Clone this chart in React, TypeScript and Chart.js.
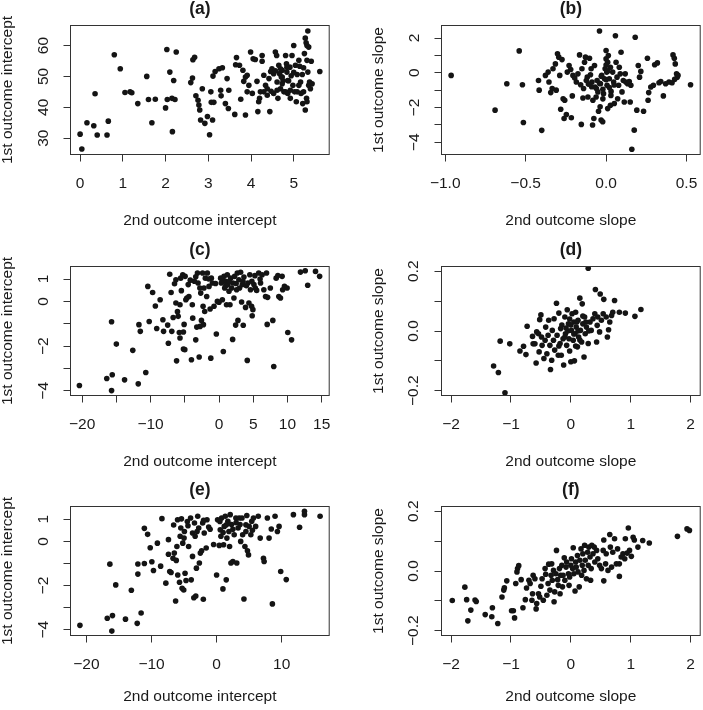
import React, { useEffect, useRef } from 'react';
import { Chart, registerables } from 'chart.js';

Chart.register(...registerables);

const FONT = "'Liberation Sans', Arial, Helvetica, sans-serif";
const INK = '#1a1a1a';
const DOT = '#141414';

// ---------- data (x = 2nd outcome, y = 1st outcome) ----------
const pointsA: number[][] = [
  [0,31.3],[0.04,26.5],[0.16,35],[0.32,34],[0.35,44.4],[0.4,31],[0.63,31],[0.66,35.5],[0.8,57],[0.94,52.5],
  [1.05,44.8],[1.17,45],[1.21,44.7],[1.35,41.2],[1.56,50],[1.6,42.5],[1.68,35],[1.76,42.6],[2.0,39.8],[2.03,58.7],
  [2.04,42.5],[2.1,51.4],[2.15,42.9],[2.16,32.1],[2.19,48.7],[2.22,42.5],[2.25,57.9],[2.59,48],[2.63,49.5],[2.64,55.4],
  [2.68,56.2],[2.71,43.7],[2.76,42.3],[2.78,40.7],[2.8,39.1],[2.82,35.9],[2.86,46],[2.92,34.8],[2.98,37],[3.03,31.1],
  [3.06,45],[3.1,35.9],[3.11,50.1],[3.13,41.6],[3.07,41.6],[3.16,51.6],[3.25,52.5],[3.29,45.5],[3.33,52.8],[3.3,43.7],
  [3.4,41.2],[3.44,49.3],[3.48,45.5],[3.47,39.6],[3.62,37.7],[3.66,56.1],[3.64,53.8],[3.73,53.6],[3.76,42.6],[3.81,52],
  [3.83,48.4],[3.87,49.8],[3.91,50.4],[3.87,37.5],[3.91,45],[3.95,47.1],[3.99,57.9],[4.03,44.5],[4.05,55.7],[4.1,55.5],
  [4.14,48.4],[4.16,38.6],[4.18,41.8],[4.2,42.9],[4.22,45],[4.26,56.8],[4.26,54.9],[4.3,50.4],[4.34,47.1],[4.38,43.9],
  [4.42,49.3],[4.44,38.6],[4.47,45.2],[4.49,52.5],[4.53,50.9],[4.57,57.9],[4.6,56.8],[4.61,48.2],[4.63,42.9],[4.65,53.6],
  [4.67,50.9],[4.69,46],[4.71,49.8],[4.73,52],[4.75,48.6],[4.77,45],[4.81,56.8],[4.83,54.1],[4.84,51.4],[4.86,44.5],
  [4.88,48.6],[4.91,53],[4.92,42.9],[4.94,50.2],[4.96,56.8],[4.98,47.1],[5.0,60],[5.02,45],[5.04,53.6],[5.06,41.8],
  [5.08,50.6],[5.12,55.2],[5.14,53.3],[5.16,48.2],[5.17,44.5],[5.2,50.6],[5.21,41.2],[5.23,52.8],[5.25,57.4],[5.27,39.1],
  [5.27,62.4],[5.29,60.9],[5.31,60],[5.33,64.7],[5.31,55.2],[5.33,51.4],[5.35,59.5],[5.35,47.1],[5.37,48.2],[5.39,46],
  [5.41,54.9],[5.43,47.6],[5.3,42.9],[5.31,41.8],[5.61,51.6],[4.46,51.6],[4.57,51.8],[4.69,52.5],[4.84,53],[4.73,47.6],
  [4.61,45.5],[4.53,44.5],[4.38,46],[4.3,45],[4.81,45],[4.92,45.5],[5.08,45],[5.23,45],[5.12,47.1],[5.0,51.3],
  [4.86,48.7],[4.73,49.8]
];

const pointsB: number[][] = [
  [-0.963,-0.15],[-0.69,-2.15],[-0.617,-0.63],[-0.54,1.26],[-0.52,-0.69],[-0.514,-2.86],[-0.42,-0.44],[-0.416,-1.0],[-0.4,-3.31],[-0.377,-0.15],
  [-0.36,0.04],[-0.355,-0.53],[-0.344,-1.14],[-0.335,-0.91],[-0.33,0.23],[-0.315,0.51],[-0.31,-1.0],[-0.302,1.09],[-0.294,0.9],[-0.288,-0.15],
  [-0.282,-2.1],[-0.274,0.76],[-0.267,-1.49],[-0.261,-2.63],[-0.257,-1.58],[-0.247,-2.4],[-0.241,0.04],[-0.23,0.42],[-0.22,0.19],[-0.216,-2.59],
  [-0.21,-1.33],[-0.206,-0.15],[-0.195,-0.3],[-0.185,-0.53],[-0.175,-0.06],[-0.165,1.03],[-0.158,-0.69],[-0.154,-2.97],[-0.15,0.23],[-0.144,-1.45],
  [-0.134,0.61],[-0.128,0.9],[-0.123,-0.44],[-0.117,-0.25],[-0.113,-1.39],[-0.103,0.84],[-0.097,-0.11],[-0.093,0.23],[-0.088,-0.53],[-0.084,-3.0],
  [-0.082,-1.58],[-0.076,-2.63],[-0.072,0.42],[-0.068,-0.82],[-0.062,-1.39],[-0.056,-0.44],[-0.051,-1.1],[-0.047,-2.21],[-0.041,2.4],[-0.037,-1.96],
  [-0.035,-0.63],[-0.031,-2.72],[-0.027,-0.15],[-0.021,-2.82],[-0.016,-1.2],[-0.01,-0.34],[-0.006,0.23],[0,0.8],[0,1.28],[0.004,0.04],
  [0.006,-0.72],[0.01,0.61],[0.01,-2.06],[0.014,0.99],[0.02,-0.34],[0.027,0.32],[0.027,-1.87],[0.031,-1.07],[0.041,0.04],[0.047,-0.53],
  [0.051,-1.77],[0.058,2.13],[0.062,0.61],[0.068,-0.25],[0.072,-1.49],[0.078,-0.72],[0.082,0.32],[0.088,-0.06],[0.093,1.18],[0.099,-1.1],
  [0.107,-0.44],[0.113,-1.68],[0.119,-0.06],[0.123,-0.53],[0.134,-0.63],[0.144,-0.5],[0.15,-1.68],[0.154,-0.72],[0.16,-4.4],[0.175,-3.3],
  [0.181,2.04],[0.191,-2.15],[0.2,0.42],[0.208,-0.25],[0.216,0.08],[0.233,-2.21],[0.257,0.84],[0.261,-1.58],[0.265,-1.14],[0.278,-0.82],
  [0.294,-0.72],[0.302,0.46],[0.319,0.57],[0.329,-0.57],[0.34,-0.5],[0.356,-1.33],[0.37,-0.63],[0.391,-0.53],[0.41,-0.57],[0.416,1.03],
  [0.424,0.84],[0.43,0.51],[0.438,-0.06],[0.442,-0.25],[0.447,-0.15],[0.426,-0.38],[0.525,-0.69],[-0.09,-0.8],[-0.06,-0.9],[-0.02,-0.95],
  [0.02,-0.85],[0.05,-0.7],[-0.04,-0.6],[0,-0.4],[-0.03,-0.2],[0.01,0.1],[-0.11,-0.65],[-0.14,-0.9],[0,0.45],[0.03,-1.3],
  [-0.02,-1.5]
];

const pointsC: number[][] = [
  [-20.4,-3.76],[-16.4,-3.45],[-15.6,-3.28],[-15.7,-3.99],[-15.7,-0.91],[-15.0,-1.91],[-13.8,-3.51],[-12.6,-2.19],[-11.8,-3.69],[-11.5,-1.34],
  [-11.7,-1.04],[-10.7,-3.18],[-10.4,0.67],[-10.2,-0.9],[-9.7,0.4],[-9.3,-0.21],[-9.1,-1.21],[-8.6,0.07],[-8.2,-0.82],[-8.1,-1.34],
  [-7.5,-1.06],[-7.4,-1.87],[-7.2,1.21],[-7.0,0.4],[-6.9,-1.34],[-6.7,-0.72],[-6.5,0.79],[-6.3,0.97],[-6.3,-0.07],[-6.2,-2.66],
  [-6.07,-0.46],[-5.97,-0.67],[-5.8,-1.39],[-5.7,-1.64],[-5.7,-0.15],[-5.6,1.04],[-5.5,0.48],[-5.3,1.19],[-5.2,-1.37],[-5.2,-2.13],
  [-5.1,-1.03],[-5.0,-2.16],[-4.95,1.12],[-4.85,0.07],[-4.7,0.15],[-4.5,0.75],[-4.4,0.22],[-4.03,-2.61],[-3.9,-0.15],[-3.84,-0.75],
  [-3.6,0.9],[-3.4,-1.72],[-3.25,-1.15],[-3.15,1.27],[-3.06,0.82],[-2.9,-2.49],[-2.77,-1.12],[-2.67,0.37],[-2.57,-0.85],[-2.4,1.27],
  [-2.33,-0.22],[-2.28,-1.04],[-2.2,0.6],[-2.09,-0.45],[-2.0,1.04],[-1.8,0.22],[-1.7,1.27],[-1.46,0.67],[-1.3,-0.34],[-1.2,-2.54],
  [-1.12,1.04],[-0.97,0.82],[-0.73,-0.22],[-0.39,-1.46],[-0.24,0],[0,-0.04],[0.24,1.04],[0.34,0.82],[0.49,0.07],[0.63,-2.24],
  [0.73,1.12],[0.83,0.6],[0.97,0.9],[1.1,-0.15],[1.21,1.19],[1.3,0.75],[1.46,0.45],[1.6,-0.15],[1.7,1.04],[1.84,0.6],
  [1.99,-1.7],[2.04,0.82],[2.18,0.15],[2.28,1.12],[2.43,-1.06],[2.57,0.52],[2.67,1.27],[2.77,-0.85],[2.9,0.97],[3.16,1.3],
  [3.3,-0.03],[3.4,0.75],[3.54,-1.07],[3.64,1.09],[3.88,-0.27],[4.13,-2.64],[4.22,0.82],[4.37,-0.07],[4.5,1.19],[4.6,0.52],
  [4.76,-0.22],[4.85,-0.64],[4.95,-0.37],[5.1,0.75],[5.24,1.15],[5.5,0.49],[5.8,1.27],[6.07,0.82],[6.3,1.19],[6.55,0.52],
  [6.8,0.22],[6.94,1.27],[7.04,-1.03],[7.1,0.18],[7.5,0.6],[7.86,-0.85],[8.0,-2.91],[8.35,1.04],[8.6,1.16],[8.74,0.22],
  [8.98,0.15],[9.22,1.12],[9.3,0.52],[9.56,0.67],[9.95,0.6],[10.05,-1.39],[10.6,-1.72],[11.9,1.31],[12.6,1.37],[12.96,0.72],
  [14.1,1.34],[14.7,1.12],[1.0,0.7],[1.5,0.9],[2.5,0.8],[3.0,0.6],[3.5,0.9],[4.0,0.7],[4.8,0.9],[5.3,0.6],
  [6.0,1.0],[0.5,0.9],[-0.5,0.8],[-1.5,1.0],[-2.8,0.6],[-3.4,1.1],[-4.2,0.95]
];

const pointsD: number[][] = [
  [0.29,0.21],[-1.29,-0.117],[-1.21,-0.139],[-1.1,-0.207],[-1.18,-0.034],[-1.02,-0.043],[-0.85,-0.067],[-0.79,-0.051],[-0.75,-0.079],[-0.73,0.016],
  [-0.64,-0.018],[-0.63,-0.043],[-0.6,-0.043],[-0.58,-0.107],[-0.57,-0.003],[-0.54,-0.009],[-0.53,-0.07],[-0.52,0.038],[-0.5,0.054],[-0.49,-0.02],
  [-0.48,-0.048],[-0.45,-0.092],[-0.43,-0.031],[-0.42,0.013],[-0.4,-0.076],[-0.38,-0.014],[-0.37,0.036],[-0.35,-0.048],[-0.34,-0.129],[-0.32,-0.098],
  [-0.31,0.002],[-0.29,-0.031],[-0.28,0.041],[-0.27,-0.064],[-0.24,0.093],[-0.23,-0.014],[-0.21,-0.081],[-0.2,0.06],[-0.18,-0.042],[-0.17,0.008],
  [-0.16,-0.081],[-0.13,-0.026],[-0.12,-0.114],[-0.1,0.047],[-0.09,-0.009],[-0.07,-0.048],[-0.06,0.071],[-0.04,0.024],[-0.03,-0.026],[-0.02,-0.067],
  [0,-0.103],[0.01,0.002],[0.02,0.058],[0.04,-0.031],[0.05,0.03],[0.06,-0.1],[0.07,-0.009],[0.08,0.063],[0.09,0.013],[0.11,-0.053],
  [0.12,0.036],[0.13,-0.02],[0.15,0.11],[0.16,0.002],[0.18,-0.037],[0.19,0.091],[0.2,0.024],[0.22,-0.087],[0.23,0.047],[0.24,-0.009],
  [0.26,0.013],[0.29,-0.042],[0.32,0.03],[0.34,0.002],[0.37,0.041],[0.4,0.058],[0.41,0.139],[0.43,-0.037],[0.44,0.019],[0.45,0.047],
  [0.48,-0.003],[0.49,0.124],[0.51,0.036],[0.54,0.058],[0.55,0.106],[0.59,0.047],[0.63,0.004],[0.61,-0.02],[0.65,0.03],[0.68,0.052],
  [0.7,0.063],[0.73,0.102],[0.81,0.063],[0.91,0.06],[1.07,0.049],[1.17,0.072],[0,0.02],[0.05,-0.01],[-0.05,0],[0.1,0.03],
  [-0.1,-0.02],[0.15,-0.03],[0.2,0.05],[-0.15,0.02],[0.08,-0.05],[-0.02,0.04],[0.12,0],[0.3,0],[-0.2,-0.05],[0.25,0.03],
  [-0.08,0.01]
];

const pointsE: number[][] = [
  [-21.0,-3.8],[-16.8,-3.48],[-16.0,-3.36],[-16.1,-4.06],[-16.4,-1.03],[-15.5,-1.97],[-14.0,-3.52],[-13.1,-2.21],[-12.2,-3.71],[-11.6,-3.24],
  [-12.1,-1.02],[-12.1,-1.48],[-11.1,-1.0],[-11.1,0.59],[-10.6,0.32],[-10.2,-0.29],[-9.95,-0.92],[-9.7,-1.32],[-9.1,-0.08],[-8.6,-1.12],
  [-8.4,1.03],[-7.8,-1.89],[-7.4,0.08],[-7.4,-0.58],[-7.2,-1.36],[-7.0,-1.41],[-6.7,-0.76],[-6.6,0.74],[-6.5,-0.53],[-6.3,-2.7],
  [-6.2,-0.86],[-6.1,-0.23],[-6.0,0.98],[-5.97,-1.52],[-5.7,-1.85],[-5.6,0.23],[-5.5,0.61],[-5.4,1.02],[-5.3,-2.12],[-5.2,-0.08],
  [-5.05,-2.2],[-4.95,0.45],[-4.85,-1.44],[-4.7,-1.77],[-4.4,0.71],[-4.3,-0.23],[-4.0,1.06],[-3.9,-1.74],[-3.7,0.38],[-3.7,-0.68],
  [-3.5,-2.55],[-3.4,0.83],[-3.3,0.23],[-3.2,-2.47],[-3.1,-1.21],[-2.9,1.14],[-2.75,0.61],[-2.65,-0.98],[-2.5,-0.53],[-2.3,-0.42],
  [-2.14,0.83],[-2.04,-2.62],[-1.9,0.38],[-1.6,-0.3],[-1.48,0.98],[-1.22,0.65],[-0.46,-0.14],[0,-1.52],[0.15,0.98],[0.41,-0.18],
  [0.56,0.53],[0.66,0.23],[0.77,1.06],[0.97,-2.15],[1.07,-0.15],[1.17,0.68],[1.33,1.14],[1.48,-1.74],[1.58,0.15],[1.73,0.91],
  [1.89,0.45],[1.99,-0.23],[2.09,1.21],[2.2,-0.98],[2.3,0.76],[2.5,-0.91],[2.7,0.3],[2.96,1.06],[3.1,-0.98],[3.3,0.61],
  [3.47,1.06],[3.6,0.76],[3.7,0],[3.9,1.06],[4.2,-2.61],[4.35,-0.23],[4.5,0.45],[4.64,1.17],[4.74,-0.42],[4.9,-0.61],
  [5.0,0.68],[5.26,0.3],[5.4,0.91],[5.66,1.06],[6.0,0.68],[6.4,1.14],[6.7,0.15],[7.2,-0.76],[7.3,-0.91],[7.8,1.06],
  [8.06,0.15],[8.57,-2.83],[8.4,0.56],[8.98,1.14],[9.34,0.45],[9.6,0.68],[9.85,-1.36],[10.7,-1.73],[11.8,1.21],[12.75,0.64],
  [13.5,1.36],[13.5,1.21],[15.9,1.14],[0.5,0.9],[1.0,0.4],[1.5,0.75],[2.5,0.55],[3.0,0.85],[4.0,0.3],[4.5,0.75],
  [5.5,0.5],[-1.0,0.55],[-2.0,0.95],[-3.0,0.45],[-4.5,0.9],[-5.0,0.15]
];

const pointsF: number[][] = [
  [-1.98,-0.099],[-1.77,-0.054],[-1.74,-0.096],[-1.67,-0.131],[-1.72,-0.167],[-1.6,-0.097],[-1.58,-0.102],[-1.43,-0.146],[-1.32,-0.153],[-1.31,-0.123],
  [-1.22,-0.176],[-1.15,-0.087],[-1.12,-0.064],[-1.11,-0.056],[-1.07,-0.033],[-0.99,-0.133],[-0.96,-0.133],[-0.94,-0.157],[-0.92,-0.042],[-0.9,-0.003],
  [-0.89,0.008],[-0.87,0.018],[-0.83,-0.029],[-0.8,-0.123],[-0.76,-0.096],[-0.74,-0.057],[-0.7,-0.031],[-0.68,-0.042],[-0.65,-0.098],[-0.64,-0.076],
  [-0.63,-0.014],[-0.6,-0.026],[-0.58,-0.127],[-0.57,-0.109],[-0.54,-0.076],[-0.52,-0.087],[-0.5,-0.051],[-0.48,-0.026],[-0.46,-0.098],[-0.43,0.008],
  [-0.42,-0.011],[-0.4,-0.081],[-0.38,-0.042],[-0.37,0.023],[-0.35,-0.064],[-0.33,-0.014],[-0.32,0.024],[-0.31,-0.031],[-0.29,0.002],[-0.28,-0.103],
  [-0.27,-0.07],[-0.25,-0.009],[-0.24,0.069],[-0.22,-0.029],[-0.21,-0.048],[-0.19,0.008],[-0.18,-0.076],[-0.17,-0.014],[-0.15,0.019],[-0.14,-0.053],
  [-0.13,-0.014],[-0.11,0.044],[-0.1,-0.031],[-0.08,0.013],[-0.07,0.03],[-0.04,-0.009],[-0.03,-0.048],[-0.02,-0.02],[0,0.019],[0.01,0.041],
  [0.03,0.008],[0.04,0.078],[0.05,-0.009],[0.07,-0.067],[0.08,0.03],[0.09,0.013],[0.11,0.052],[0.12,-0.003],[0.14,-0.053],[0.15,0.036],
  [0.17,0.074],[0.18,-0.014],[0.19,0.019],[0.2,0.058],[0.22,0.002],[0.23,0.086],[0.24,0.036],[0.26,-0.026],[0.28,0.063],[0.29,0.019],
  [0.3,0.08],[0.32,0.047],[0.33,-0.031],[0.34,0.008],[0.35,0.086],[0.37,0.058],[0.39,0.08],[0.4,0.03],[0.43,0.069],[0.45,0.041],
  [0.48,0.019],[0.51,0.008],[0.54,0.069],[0.55,0.104],[0.55,-0.033],[0.58,0.024],[0.59,0.058],[0.62,0.002],[0.65,0.122],[0.66,0.08],
  [0.68,0.013],[0.7,0.063],[0.73,0.108],[0.76,0.024],[0.78,0.074],[0.81,-0.018],[0.81,0.024],[0.84,0.047],[0.87,0.058],[0.9,0.041],
  [0.91,0.108],[0.94,0.06],[0.96,0.144],[0.98,0.069],[1.01,0.049],[1.04,0.113],[1.06,0.104],[1.12,0.08],[1.2,0.102],[1.31,0.094],
  [1.78,0.116],[1.94,0.141],[1.98,0.136]
];

// ---------- ticks ----------
const ticksA_x = [0, 1, 2, 3, 4, 5];
const labelsA_x = ['0', '1', '2', '3', '4', '5'];
const ticksA_y = [30, 40, 50, 60];
const labelsA_y = ['30', '40', '50', '60'];

const ticksB_x = [-1, -0.5, 0, 0.5];
const labelsB_x = ['\u22121.0', '\u22120.5', '0.0', '0.5'];
const ticksB_y = [-4, -3, -2, -1, 0, 1, 2];
const labelsB_y = ['\u22124', '', '\u22122', '', '0', '', '2'];

const ticksC_x = [-20, -15, -10, -5, 0, 5, 10, 15];
const labelsC_x = ['\u221220', '', '\u221210', '', '0', '5', '10', '15'];
const ticksInt_y = [-4, -3, -2, -1, 0, 1];
const labelsInt_y = ['\u22124', '', '\u22122', '', '0', '1'];

const ticksSlope_x = [-2, -1, 0, 1, 2];
const labelsSlope_x = ['\u22122', '\u22121', '0', '1', '2'];
const ticksSlope_y = [-0.2, -0.1, 0, 0.1, 0.2];
const labelsSlope_y = ['\u22120.2', '', '0.0', '', '0.2'];

const ticksE_x = [-20, -10, 0, 10];
const labelsE_x = ['\u221220', '\u221210', '0', '10'];

const titles = ['(a)', '(b)', '(c)', '(d)', '(e)', '(f)'];
const xTitles = ['2nd outcome intercept', '2nd outcome slope'];
const yTitles = ['1st outcome intercept', '1st outcome slope'];

type Spec = {
  title: string;
  points: number[][];
  xRange: number[];
  yRange: number[];
  xTicks: number[];
  xLabels: string[];
  yTicks: number[];
  yLabels: string[];
  xTitle: string;
  yTitle: string;
  left: number;
  top: number;
  yPad: number;
  xTitlePad: number;
};

const COLS = [0, 371];
const ROWS = [0, 241, 481];

const specs: Spec[] = [
  { title: titles[0], points: pointsA, xRange: [-0.225, 5.83], yRange: [24.7, 66.5], xTicks: ticksA_x, xLabels: labelsA_x, yTicks: ticksA_y, yLabels: labelsA_y, xTitle: xTitles[0], yTitle: yTitles[0], left: COLS[0], top: ROWS[0], yPad: 11, xTitlePad: 6.5 },
  { title: titles[1], points: pointsB, xRange: [-1.023, 0.585], yRange: [-4.7, 2.72], xTicks: ticksB_x, xLabels: labelsB_x, yTicks: ticksB_y, yLabels: labelsB_y, xTitle: xTitles[1], yTitle: yTitles[1], left: COLS[1], top: ROWS[0], yPad: 11, xTitlePad: 6.5 },
  { title: titles[2], points: pointsC, xRange: [-21.7, 16.1], yRange: [-4.21, 1.56], xTicks: ticksC_x, xLabels: labelsC_x, yTicks: ticksInt_y, yLabels: labelsInt_y, xTitle: xTitles[0], yTitle: yTitles[0], left: COLS[0], top: ROWS[1], yPad: 11, xTitlePad: 6.5 },
  { title: titles[3], points: pointsD, xRange: [-2.16, 2.16], yRange: [-0.216, 0.216], xTicks: ticksSlope_x, xLabels: labelsSlope_x, yTicks: ticksSlope_y, yLabels: labelsSlope_y, xTitle: xTitles[1], yTitle: yTitles[1], left: COLS[1], top: ROWS[1], yPad: 5, xTitlePad: 6.5 },
  { title: titles[4], points: pointsE, xRange: [-22.45, 17.3], yRange: [-4.26, 1.58], xTicks: ticksE_x, xLabels: labelsE_x, yTicks: ticksInt_y, yLabels: labelsInt_y, xTitle: xTitles[0], yTitle: yTitles[0], left: COLS[0], top: ROWS[2], yPad: 11, xTitlePad: 11 },
  { title: titles[5], points: pointsF, xRange: [-2.16, 2.16], yRange: [-0.216, 0.216], xTicks: ticksSlope_x, xLabels: labelsSlope_x, yTicks: ticksSlope_y, yLabels: labelsSlope_y, xTitle: xTitles[1], yTitle: yTitles[1], left: COLS[1], top: ROWS[2], yPad: 5, xTitlePad: 11 },
];

const CW = 332;
const CH = 236;
const Y_AXIS_W = 70.5;
const X_AXIS_H = 81.5;

const boxPlugin = {
  id: 'rbox',
  afterDraw(chart: any) {
    const { ctx, chartArea: a } = chart;
    ctx.save();
    ctx.strokeStyle = '#333';
    ctx.lineWidth = 1;
    ctx.strokeRect(a.left, a.top, a.right - a.left, a.bottom - a.top);
    ctx.restore();
  },
};

function Panel({ spec }: { spec: Spec }) {
  const ref = useRef<HTMLCanvasElement>(null);
  useEffect(() => {
    const tickFont = { family: FONT, size: 15.5 };
    const chart = new Chart(ref.current as HTMLCanvasElement, {
      type: 'scatter',
      data: {
        datasets: [
          {
            data: spec.points.map(([x, y]) => ({ x, y })),
            backgroundColor: DOT,
            borderColor: DOT,
            borderWidth: 0,
            pointRadius: 2.8,
            pointHoverRadius: 2.8,
          },
        ],
      },
      options: {
        animation: false,
        responsive: false,
        events: [],
        layout: { padding: { left: 0, right: CW - Y_AXIS_W - 260, top: 0, bottom: 0 } },
        plugins: {
          legend: { display: false },
          tooltip: { enabled: false },
          title: {
            display: true,
            text: spec.title,
            fullSize: false,
            color: INK,
            font: { family: FONT, size: 17.5, weight: 'bold', lineHeight: '19px' } as any,
            padding: { top: 0, bottom: 6.5 },
          },
        },
        scales: {
          x: {
            type: 'linear',
            bounds: 'data',
            min: spec.xRange[0],
            max: spec.xRange[1],
            afterBuildTicks: (s: any) => {
              s.ticks = spec.xTicks.map((v) => ({ value: v }));
            },
            afterFit: (s: any) => {
              s.height = X_AXIS_H;
              s.paddingLeft = 0;
              s.paddingRight = 0;
            },
            ticks: {
              autoSkip: false,
              maxRotation: 0,
              minRotation: 0,
              padding: 13,
              color: INK,
              font: tickFont,
              callback: (_v: any, i: number) => spec.xLabels[i],
            },
            grid: { drawOnChartArea: false, drawTicks: true, tickLength: 7, color: '#333', lineWidth: 1 },
            border: { display: false },
            title: {
              display: true,
              text: spec.xTitle,
              color: INK,
              font: { family: FONT, size: 15.5, lineHeight: '18px' } as any,
              padding: { top: 0, bottom: spec.xTitlePad },
            },
          },
          y: {
            type: 'linear',
            bounds: 'data',
            min: spec.yRange[0],
            max: spec.yRange[1],
            afterBuildTicks: (s: any) => {
              s.ticks = spec.yTicks.map((v) => ({ value: v }));
            },
            afterFit: (s: any) => {
              s.width = Y_AXIS_W;
              s.paddingTop = 0;
              s.paddingBottom = 0;
            },
            ticks: {
              autoSkip: false,
              minRotation: 90,
              maxRotation: 90,
              crossAlign: 'center',
              padding: spec.yPad,
              color: INK,
              font: tickFont,
              callback: (_v: any, i: number) => spec.yLabels[i],
            },
            grid: { drawOnChartArea: false, drawTicks: true, tickLength: 7, color: '#333', lineWidth: 1 },
            border: { display: false },
            title: {
              display: true,
              text: spec.yTitle,
              color: INK,
              font: { family: FONT, size: 15.5, lineHeight: '15.5px' } as any,
              padding: { top: 0, bottom: 0 },
            },
          },
        },
      } as any,
      plugins: [boxPlugin],
    });
    return () => chart.destroy();
  }, [spec]);
  return (
    <canvas
      ref={ref}
      width={CW}
      height={CH}
      style={{ position: 'absolute', left: spec.left, top: spec.top, width: CW, height: CH }}
    />
  );
}

export default function App() {
  return (
    <div
      style={{
        position: 'fixed',
        left: 0,
        top: 0,
        width: 703,
        height: 710,
        background: '#ffffff',
        overflow: 'hidden',
      }}
    >
      {specs.map((s) => (
        <Panel key={s.title} spec={s} />
      ))}
    </div>
  );
}
